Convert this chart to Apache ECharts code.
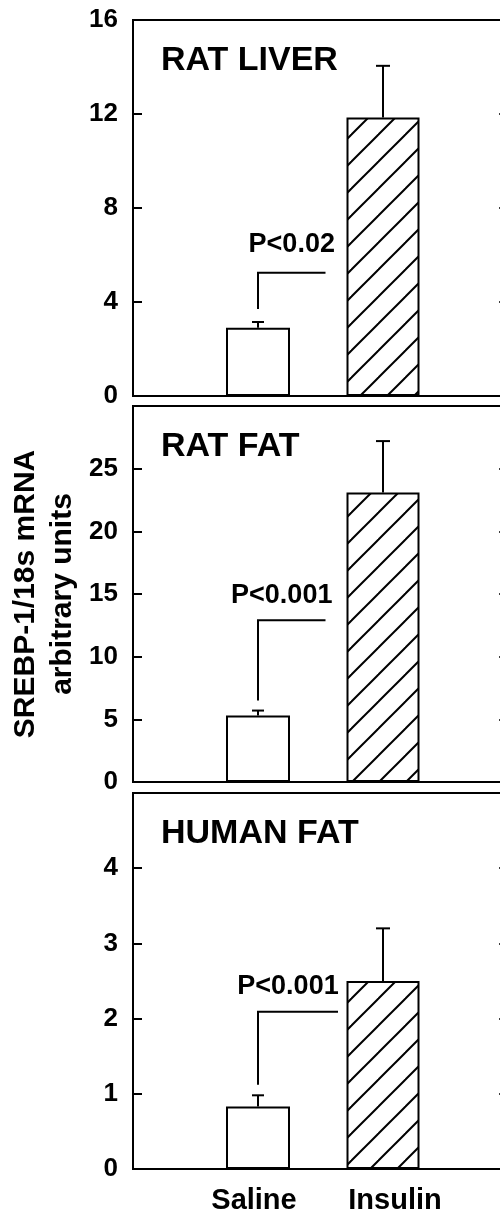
<!DOCTYPE html>
<html>
<head>
<meta charset="utf-8">
<script src="https://cdn.jsdelivr.net/npm/echarts@6/dist/echarts.min.js"></script>
<style>
  html, body { margin: 0; padding: 0; background: #fff; }
  #chart { width: 500px; height: 1213px; }
</style>
</head>
<body>
<div id="chart"></div>
<script>
// data
const categories = ['Saline', 'Insulin'];
const panelNames = ['RAT LIVER', 'RAT FAT', 'HUMAN FAT'];
const salineMean = [2.9, 5.3, 0.83];
const salineTop = [3.15, 5.7, 0.98];
const insulinMean = [11.85, 23.1, 2.5];
const insulinTop = [14.05, 27.2, 3.2];
const yMax = [16, 30, 5];
const yStep = [4, 5, 1];
const pLabels = ['P<0.02', 'P<0.001', 'P<0.001'];
const bracketLow = [3.7, 6.5, 1.12];
const bracketHigh = [5.25, 12.9, 2.09];
const bracketEnd = [1.54, 1.54, 1.64];
const pTextX = [1.27, 1.19, 1.24];
const pTextY = [6.45, 14.9, 2.43];

const FONT = '"Liberation Sans", Arial, sans-serif';
const panelTop = [20, 406, 793];
const panelH = 376;
const capHalf = [6, 7];

function hatchTile(size, lw) {
  const c = document.createElement('canvas');
  c.width = c.height = size;
  const ctx = c.getContext('2d');
  ctx.fillStyle = '#fff';
  ctx.fillRect(0, 0, size, size);
  ctx.strokeStyle = '#000';
  ctx.lineWidth = lw;
  [0, size, 2 * size].forEach(k => {
    ctx.beginPath();
    ctx.moveTo(k + 2, -2);
    ctx.lineTo(-2, k + 2);
    ctx.stroke();
  });
  return c;
}
const hatch = { image: hatchTile(27, 2), repeat: 'repeat' };

const chart = echarts.init(document.getElementById('chart'));

const grid = [], xAxis = [], yAxis = [], series = [], title = [];

panelNames.forEach((name, i) => {
  grid.push({
    left: 133, width: 375, top: panelTop[i], height: panelH,
    outerBoundsMode: 'none', containLabel: false,
    show: true, borderColor: '#000', borderWidth: 2, backgroundColor: 'transparent'
  });
  title.push({
    text: name, left: 161, top: panelTop[i] + 24, padding: 0,
    textStyle: { fontFamily: FONT, fontSize: 34, fontWeight: 'bold', color: '#000' }
  });
  for (let k = 0; k < 2; k++) {
    const showLabel = i === 2 && k === 0;
    xAxis.push({
      gridIndex: i, type: 'value', min: 0, max: 3, interval: 1, position: 'bottom',
      axisLine: { show: false, onZero: false }, axisTick: { show: false }, splitLine: { show: false },
      axisLabel: {
        show: showLabel, margin: 17,
        fontFamily: FONT, fontSize: 29, fontWeight: 'bold', color: '#000',
        formatter: v => v === 1 ? '{s|' + categories[0] + '}' : v === 2 ? '{i|' + categories[1] + '}' : '',
        rich: {
          s: { fontFamily: FONT, fontSize: 29, fontWeight: 'bold', color: '#000', padding: [0, 8, 0, 0] },
          i: { fontFamily: FONT, fontSize: 29, fontWeight: 'bold', color: '#000', padding: [0, 0, 0, 24] }
        }
      }
    });
  }
  yAxis.push({
    gridIndex: i, type: 'value', position: 'left', min: 0, max: yMax[i], interval: yStep[i],
    axisLine: { show: true, onZero: false, lineStyle: { color: '#000', width: 2 } },
    axisTick: { show: true, inside: true, length: 9, lineStyle: { color: '#000', width: 2 } },
    splitLine: { show: false },
    axisLabel: {
      margin: 15, showMaxLabel: i === 0,
      fontFamily: FONT, fontSize: 26, fontWeight: 'bold', color: '#000'
    },
    name: i === 1 ? 'SREBP-1/18s mRNA\narbitrary units' : '',
    nameLocation: 'middle', nameRotate: 90, nameGap: 52, nameMoveOverlap: false,
    nameTextStyle: { fontFamily: FONT, fontSize: 30, fontWeight: 'bold', color: '#000', lineHeight: 37 }
  });
  yAxis.push({
    gridIndex: i, type: 'value', position: 'right', min: 0, max: yMax[i], interval: yStep[i],
    axisLine: { show: false, onZero: false },
    axisTick: { show: true, inside: true, length: 9, lineStyle: { color: '#000', width: 1.5 } },
    splitLine: { show: false }, axisLabel: { show: false }
  });

  series.push({
    type: 'bar', xAxisIndex: 2 * i, yAxisIndex: 2 * i, barWidth: 64,
    data: [[1, salineMean[i]]],
    itemStyle: { color: '#fff', borderColor: '#000', borderWidth: 2 },
    silent: true
  });
  series.push({
    type: 'bar', xAxisIndex: 2 * i + 1, yAxisIndex: 2 * i, barWidth: 73,
    data: [[2, insulinMean[i]]],
    itemStyle: { color: hatch, borderColor: '#000', borderWidth: 2 },
    silent: true
  });
  // error bars (upper only)
  series.push({
    type: 'custom', xAxisIndex: 2 * i, yAxisIndex: 2 * i, z: 5, silent: true,
    data: [[1, salineMean[i], salineTop[i]], [2, insulinMean[i], insulinTop[i]]],
    renderItem(params, api) {
      const lo = api.coord([api.value(0), api.value(1)]);
      const hi = api.coord([api.value(0), api.value(2)]);
      const h = capHalf[params.dataIndex];
      const st = { stroke: '#000', lineWidth: 2 };
      return {
        type: 'group', children: [
          { type: 'line', shape: { x1: lo[0], y1: lo[1], x2: hi[0], y2: hi[1] }, style: st },
          { type: 'line', shape: { x1: hi[0] - h, y1: hi[1], x2: hi[0] + h, y2: hi[1] }, style: st }
        ]
      };
    }
  });
  // significance bracket and label
  series.push({
    type: 'custom', xAxisIndex: 2 * i, yAxisIndex: 2 * i, z: 5, silent: true,
    data: [[1, bracketLow[i], bracketHigh[i], bracketEnd[i], pTextX[i], pTextY[i]]],
    renderItem(params, api) {
      const a = api.coord([api.value(0), api.value(1)]);
      const b = api.coord([api.value(0), api.value(2)]);
      const c = api.coord([api.value(3), api.value(2)]);
      const t = api.coord([api.value(4), api.value(5)]);
      return {
        type: 'group', children: [
          { type: 'polyline', shape: { points: [a, b, c] }, style: { stroke: '#000', lineWidth: 2, fill: null } },
          { type: 'text', x: t[0], y: t[1], style: {
              text: pLabels[i], fill: '#000', align: 'center', verticalAlign: 'middle',
              font: 'bold 27px ' + FONT } }
        ]
      };
    }
  });
});

chart.setOption({
  animation: false,
  backgroundColor: '#fff',
  title, grid, xAxis, yAxis, series
});
</script>
</body>
</html>
